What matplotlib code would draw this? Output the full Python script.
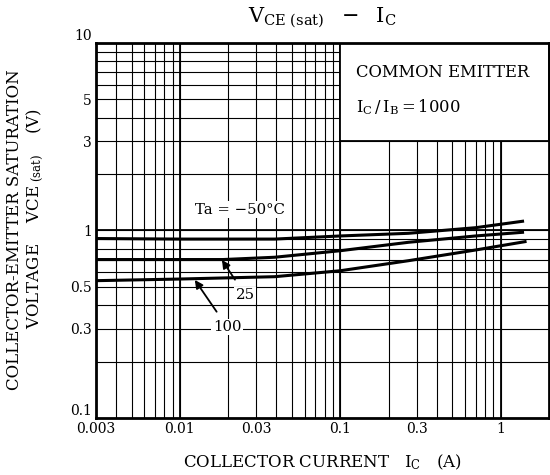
import matplotlib
matplotlib.use('Agg')
import matplotlib.pyplot as plt
from matplotlib.patches import Rectangle

plt.rcParams['font.family'] = ['DejaVu Serif']
plt.rcParams['mathtext.fontset'] = 'dejavuserif'

# curves: Ic (A) vs VCE(sat) (V)
ic_m50 = [0.003, 0.01, 0.039, 0.1, 0.266, 0.698, 1.37]
vce_m50 = [0.906, 0.90, 0.90, 0.935, 0.966, 1.035, 1.12]
ic_25 = [0.003, 0.0186, 0.039, 0.1, 0.266, 0.698, 1.37]
vce_25 = [0.70, 0.70, 0.72, 0.78, 0.865, 0.935, 0.978]
ic_100 = [0.003, 0.01, 0.039, 0.1, 0.266, 0.698, 1.42]
vce_100 = [0.54, 0.551, 0.567, 0.61, 0.69, 0.787, 0.872]

xticks = [0.003, 0.01, 0.03, 0.1, 0.3, 1]
xtick_labels = ['0.003', '0.01', '0.03', '0.1', '0.3', '1']
yticks = [0.1, 0.3, 0.5, 1, 3, 5, 10]
ytick_labels = ['0.1', '0.3', '0.5', '1', '3', '5', '10']

fig = plt.figure(figsize=(5.5, 4.75), dpi=100)
ax = fig.add_axes([0.1745, 0.12, 0.8235, 0.7895])
ax.set_xscale('log')
ax.set_yscale('log')
ax.set_xlim(0.003, 2)
ax.set_ylim(0.1, 10)

# grid: every 1..9 multiple, decades a bit heavier
xminor = [m * 10.0 ** e for e in (-3, -2, -1, 0) for m in range(1, 10)
          if 0.003 <= m * 10.0 ** e <= 2]
yminor = [m * 10.0 ** e for e in (-1, 0) for m in range(1, 10)]
ax.set_xticks(xminor, minor=True)
ax.set_yticks(yminor, minor=True)
ax.set_xticks(xticks)
ax.set_xticklabels(xtick_labels)
ax.set_yticks(yticks)
ax.set_yticklabels(ytick_labels)
ax.xaxis.set_minor_formatter(plt.NullFormatter())
ax.yaxis.set_minor_formatter(plt.NullFormatter())
ax.grid(which='both', color='black', linewidth=0.8)
for v in (0.01, 0.1, 1):
    ax.axvline(v, color='black', linewidth=1.3, zorder=1.6)
ax.axhline(1, color='black', linewidth=1.3, zorder=1.6)
ax.tick_params(which='both', length=0, labelsize=10, pad=3)
for lab in ax.get_yticklabels():
    if lab.get_text() in ('0.1', '10'):
        lab.set_va('bottom')
for s in ax.spines.values():
    s.set_linewidth(2)

# box with test conditions
ax.add_patch(Rectangle((0.1, 3), 1.9, 7, facecolor='white', edgecolor='black',
                       linewidth=1.3, zorder=2))
ax.text(0.125, 6.6, 'COMMON EMITTER', fontsize=11.8, zorder=5)
ax.text(0.125, 4.25, r'$\mathregular{I_C\,/\,I_B = 1000}$', fontsize=11.8, zorder=5)

ax.plot(ic_m50, vce_m50, color='black', linewidth=2.2, zorder=3)
ax.plot(ic_25, vce_25, color='black', linewidth=2.2, zorder=3)
ax.plot(ic_100, vce_100, color='black', linewidth=2.2, zorder=3)

ax.text(0.0124, 1.29, u'Ta = \u221250\u00b0C', fontsize=10.7, va='center', zorder=5,
        bbox=dict(facecolor='white', edgecolor='none', pad=1))
ax.annotate('25', xy=(0.0183, 0.697), xytext=(0.0255, 0.453), fontsize=10.7,
            ha='center', va='center', zorder=5,
            bbox=dict(facecolor='white', edgecolor='none', pad=1),
            arrowprops=dict(arrowstyle='-|>', color='black', lw=1.3,
                            mutation_scale=12, shrinkA=6, shrinkB=0))
ax.annotate('100', xy=(0.0124, 0.545), xytext=(0.0197, 0.306), fontsize=10.7,
            ha='center', va='center', zorder=5,
            bbox=dict(facecolor='white', edgecolor='none', pad=1),
            arrowprops=dict(arrowstyle='-|>', color='black', lw=1.3,
                            mutation_scale=12, shrinkA=6, shrinkB=0))

fig.text(322 / 550, 1 - 18 / 475, r'$\mathregular{V_{CE\ (sat)}\ \ -\ \ I_C}$',
         fontsize=15, ha='center', va='center')
fig.text(322 / 550, 1 - 462 / 475,
         r'COLLECTOR CURRENT   $\mathregular{I_C}$   (A)',
         fontsize=12, ha='center', va='center')
fig.text(15 / 550, 1 - 230 / 475, 'COLLECTOR-EMITTER SATURATION',
         fontsize=12, rotation=90, ha='center', va='center')
fig.text(35 / 550, 1 - 218 / 475,
         r'VOLTAGE    $\mathregular{VCE_{\ (sat)}}$    (V)',
         fontsize=12, rotation=90, ha='center', va='center')

fig.savefig('out.png', dpi=100)
